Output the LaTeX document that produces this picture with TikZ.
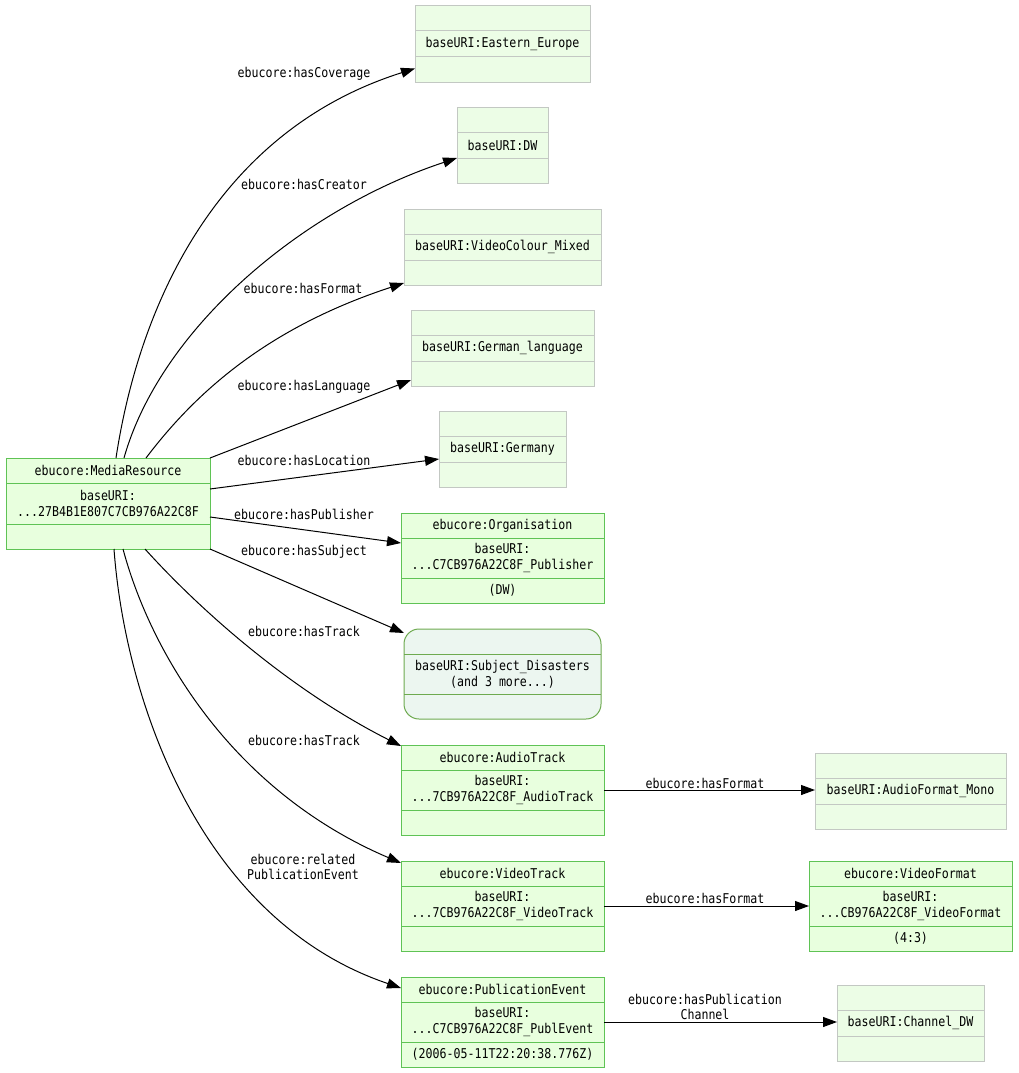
\documentclass[tikz,border=0pt]{standalone}
\usepackage{fontspec}
\setmonofont[FakeStretch=0.86]{DejaVu Sans Mono}
\usetikzlibrary{arrows.meta}
\definecolor{gfill}{RGB}{232,255,222}
\definecolor{gline}{RGB}{95,195,85}
\definecolor{hfill}{RGB}{236,253,230}
\definecolor{hline}{RGB}{195,200,195}
\definecolor{rfill}{RGB}{236,246,240}
\definecolor{rline}{RGB}{110,170,80}
\tikzset{
  txt/.style={font=\ttfamily\fontsize{13.5}{16}\selectfont, align=center, inner sep=0pt},
  lbl/.style={font=\ttfamily\fontsize{13.5}{15}\selectfont, align=center, inner sep=0pt},
  gbox/.style={draw=gline, fill=gfill, line width=1pt, inner sep=0pt, outer sep=0pt},
  gbox div/.style={draw=gline, line width=1pt},
  hbox/.style={draw=hline, fill=hfill, line width=1pt, inner sep=0pt, outer sep=0pt},
  hbox div/.style={draw=hline, line width=1pt},
  rbox/.style={draw=rline, fill=rfill, line width=1pt, rounded corners=15pt, inner sep=0pt, outer sep=0pt},
  rbox div/.style={draw=rline, line width=1pt},
  edge/.style={draw=black, line width=1pt, -{Triangle[length=14pt,width=10pt]}},
}
\newcommand\ubox[9]{%
  \node[#2, minimum width={(#5-#3)*1pt}, minimum height={(#6-#4)*1pt}] (#1) at ({(#3+#5)/2},{(#4+#6)/2}) {};
  \draw[#2 div] (#3,{#4+25}) -- (#5,{#4+25}) (#3,{#6-25}) -- (#5,{#6-25});
  \node[txt] (#1-t) at ({(#3+#5)/2},{#4+12.5}) {#7};
  \node[txt] (#1-m) at ({(#3+#5)/2},{(#4+#6)/2}) {#8};
  \node[txt] (#1-b) at ({(#3+#5)/2},{#6-12.5}) {#9};
}
\begin{document}
\begin{tikzpicture}[x=1pt,y=-1pt]
\useasboundingbox (0,0) rectangle (1019,1073);
% nodes
\ubox{mr}{gbox}{6}{458}{210}{549}{ebucore:MediaResource}{baseURI:\\...27B4B1E807C7CB976A22C8F}{}
\ubox{ee}{hbox}{415}{6}{590}{82}{}{baseURI:Eastern\_Europe}{}
\ubox{dw}{hbox}{457}{107}{548}{183}{}{baseURI:DW}{}
\ubox{vc}{hbox}{404}{209}{601}{285}{}{baseURI:VideoColour\_Mixed}{}
\ubox{gl}{hbox}{411}{310}{594}{386}{}{baseURI:German\_language}{}
\ubox{ge}{hbox}{439}{411}{566}{487}{}{baseURI:Germany}{}
\ubox{org}{gbox}{401}{513}{604}{603}{ebucore:Organisation}{baseURI:\\...C7CB976A22C8F\_Publisher}{(DW)}
\ubox{subj}{rbox}{404}{629}{601}{719}{}{baseURI:Subject\_Disasters\\(and 3 more...)}{}
\ubox{at}{gbox}{401}{745}{604}{835}{ebucore:AudioTrack}{baseURI:\\...7CB976A22C8F\_AudioTrack}{}
\ubox{vt}{gbox}{401}{861}{604}{951}{ebucore:VideoTrack}{baseURI:\\...7CB976A22C8F\_VideoTrack}{}
\ubox{pe}{gbox}{401}{977}{604}{1067}{ebucore:PublicationEvent}{baseURI:\\...C7CB976A22C8F\_PublEvent}{(2006-05-11T22:20:38.776Z)}
\ubox{af}{hbox}{815}{753}{1006}{829}{}{baseURI:AudioFormat\_Mono}{}
\ubox{vf}{gbox}{809}{861}{1012}{951}{ebucore:VideoFormat}{baseURI:\\...CB976A22C8F\_VideoFormat}{(4:3)}
\ubox{ch}{hbox}{837}{985}{984}{1061}{}{baseURI:Channel\_DW}{}
% edges
\draw[edge] ([xshift=8pt]mr.north) .. controls (140,300) and (220,130) .. ([yshift=-24.5pt]ee.west);
\draw[edge] ([xshift=16pt]mr.north) .. controls (160,330) and (300,210) .. ([yshift=-13pt]dw.west);
\draw[edge] ([xshift=38pt]mr.north) .. controls (190,400) and (260,330) .. ([yshift=-36pt]vc.west);
\draw[edge] (mr.north east) -- ([yshift=-32pt]gl.west);
\draw[edge] ([yshift=14.5pt]mr.east) -- ([yshift=-10pt]ge.west);
\draw[edge] ([yshift=-13.5pt]mr.east) -- ([yshift=15pt]org.west);
\draw[edge] (mr.south east) -- ([yshift=-4pt]subj.north west);
\draw[edge] ([xshift=37pt]mr.south) .. controls (200,610) and (290,690) .. ([yshift=-1pt]at.north west);
\draw[edge] ([xshift=15pt]mr.south) .. controls (150,650) and (230,790) .. ([yshift=-2pt]vt.north west);
\draw[edge] ([xshift=6pt]mr.south) .. controls (125,700) and (200,920) .. ([yshift=-11pt]pe.north west);
\draw[edge] (at.east) -- (at.east -| af.west);
\draw[edge] (vt.east) -- (vt.east -| vf.west);
\draw[edge] (pe.east) -- (pe.east -| ch.west);
% labels
\node[lbl] (l1) at (304,74) {ebucore:hasCoverage};
\node[lbl] (l2) at (304,184) {ebucore:hasCreator};
\node[lbl] (l3) at (303,288) {ebucore:hasFormat};
\node[lbl] (l4) at (304,387) {ebucore:hasLanguage};
\node[lbl] (l5) at (304,460) {ebucore:hasLocation};
\node[lbl] (l6) at (304,514) {ebucore:hasPublisher};
\node[lbl] (l7) at (304,552) {ebucore:hasSubject};
\node[lbl] (l8) at (304,631) {ebucore:hasTrack};
\node[lbl] (l9) at (304,740) {ebucore:hasTrack};
\node[lbl] (l10) at (303,866.5) {ebucore:related\\PublicationEvent};
\node[lbl] (l11) at (705,783) {ebucore:hasFormat};
\node[lbl] (l12) at (705,898) {ebucore:hasFormat};
\node[lbl] (l13) at (705,1006.5) {ebucore:hasPublication\\Channel};
\end{tikzpicture}
\end{document}
